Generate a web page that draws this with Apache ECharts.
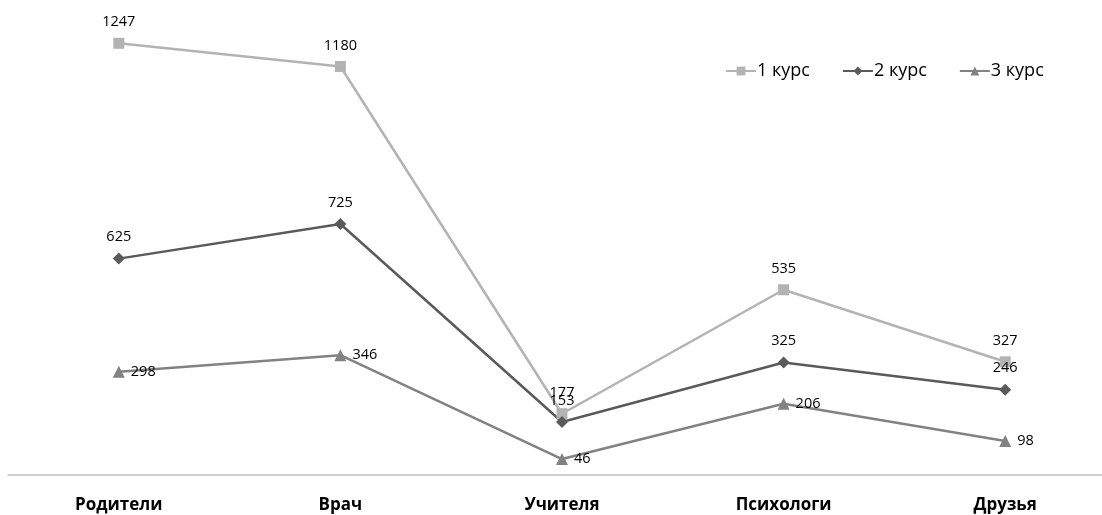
<!DOCTYPE html>
<html>
<head>
<meta charset="utf-8">
<script src="https://cdn.jsdelivr.net/npm/echarts@6/dist/echarts.min.js"></script>
<style>
  html, body { margin: 0; padding: 0; background: #fff; overflow: hidden; }
  /* drawing surface is a little wider than the window; the plot runs off the right edge */
  #chart { width: 1116px; height: 515px; }
</style>
</head>
<body>
<div id="chart"></div>
<script>
// Categories and series values
const categories = ['Родители', 'Врач', 'Учителя', 'Психологи', 'Друзья'];
const seriesNames = ['1 курс', '2 курс', '3 курс'];
const course1 = [1247, 1180, 177, 535, 327];
const course2 = [625, 725, 153, 325, 246];
const course3 = [298, 346, 46, 206, 98];

const FONT = '"Open Sans", "Liberation Sans", sans-serif';

const chart = echarts.init(document.getElementById('chart'), null, { renderer: 'canvas' });

function lineSeries(name, data, color, symbol, size, labelPos, labelDist) {
  return {
    name: name,
    type: 'line',
    data: data,
    symbol: symbol,
    symbolSize: size,
    showAllSymbol: true,
    lineStyle: { color: color, width: 2.5 },
    itemStyle: { color: color },
    label: {
      show: true,
      position: labelPos,
      distance: labelDist,
      color: '#000',
      fontSize: 14.5,
      fontFamily: FONT
    },
    emphasis: { disabled: true },
    animation: false
  };
}

chart.setOption({
  backgroundColor: '#ffffff',
  animation: false,
  legend: {
    top: 57,
    left: 720,
    itemGap: 32,
    itemWidth: 30,
    itemHeight: 11,
    textStyle: { fontSize: 18, color: '#000', fontFamily: FONT, padding: [0, 0, 0, -4] },
    data: seriesNames
  },
  grid: { left: 8, right: 0, top: 0, bottom: 40, containLabel: false },
  xAxis: {
    type: 'category',
    data: categories,
    boundaryGap: true,
    axisLine: { lineStyle: { color: '#bfbfbf', width: 1.5 } },
    axisTick: { show: false },
    axisLabel: { margin: 22, fontSize: 17, fontWeight: 'bold', color: '#000', fontFamily: FONT }
  },
  yAxis: {
    type: 'value',
    min: 0,
    max: 1372,
    show: false,
    splitLine: { show: false }
  },
  series: [
    lineSeries(seriesNames[0], course1, '#b3b3b3', 'rect', 11, 'top', 8),
    lineSeries(seriesNames[1], course2, '#5a5a5a', 'diamond', 12, 'top', 8),
    lineSeries(seriesNames[2], course3, '#828282', 'triangle', 12, 'right', 6)
  ]
});
</script>
</body>
</html>
